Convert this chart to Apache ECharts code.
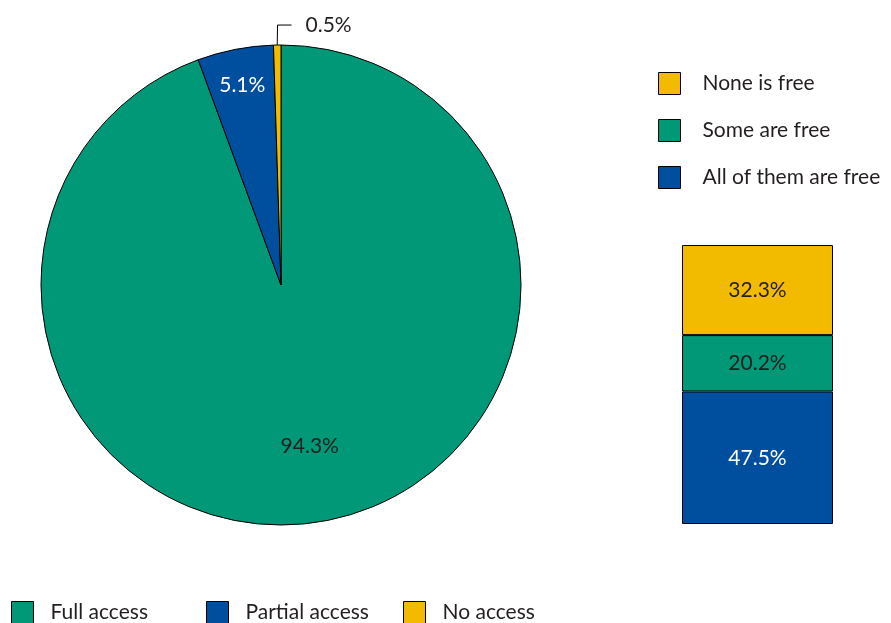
<!DOCTYPE html>
<html><head><meta charset="utf-8">
<script src="https://cdn.jsdelivr.net/npm/echarts@6/dist/echarts.min.js"></script>
<style>html,body{margin:0;padding:0;background:#fff}#c{width:891px;height:623px}</style>
</head><body><div id="c"></div>
<script>
var accessNames = ['Full access', 'Partial access', 'No access'];
var accessValues = [94.3, 5.1, 0.5];
var freeNames = ['All of them are free', 'Some are free', 'None is free'];
var freeValues = [47.5, 20.2, 32.3];

var GREEN = '#009877', BLUE = '#004f9f', YELLOW = '#f2bb00', TXT = '#231f20';
var FONT = 'Lato';
var FS = 21;
var pieColors = [GREEN, BLUE, YELLOW];
var barColors = [BLUE, GREEN, YELLOW];
var barLabelColors = ['#ffffff', TXT, TXT];

var chart = echarts.init(document.getElementById('c'), null, {renderer: 'canvas'});

var mainData = accessNames.map(function (n, i) {
  return {name: n, value: accessValues[i], itemStyle: {color: pieColors[i]},
    label: {show: i === 2}, labelLine: {show: i === 2}};
});
function overlay(idx, color) {
  return accessNames.map(function (n, i) {
    return {name: n, value: accessValues[i],
      itemStyle: {color: 'rgba(0,0,0,0)', borderWidth: 0},
      label: {show: i === idx, color: color}};
  });
}

function legendCommon(pad) {
  return {itemWidth: 22, itemHeight: 22, icon: 'rect', padding: 0,
    itemStyle: {borderColor: '#000', borderWidth: 1},
    textStyle: {fontFamily: FONT, fontSize: FS, color: TXT, lineHeight: 22, padding: [0, 0, 0, pad]},
    selectedMode: false};
}

var option = {
  animation: false,
  textStyle: {fontFamily: FONT},
  legend: [
    Object.assign({orient: 'vertical', left: 658, top: 72, itemGap: 24,
      data: ['None is free', 'Some are free', 'All of them are free']}, legendCommon(17)),
    Object.assign({left: 11, top: 601, data: [accessNames[0]]}, legendCommon(12)),
    Object.assign({left: 206, top: 601, data: [accessNames[1]]}, legendCommon(12)),
    Object.assign({left: 403, top: 601, data: [accessNames[2]]}, legendCommon(12))
  ],
  grid: {left: 682, right: 58, top: 245, bottom: 99, containLabel: false},
  xAxis: {type: 'category', data: ['x'], show: false},
  yAxis: {type: 'value', min: 0, max: 100, show: false},
  series: [
    {
      type: 'pie', center: [281, 285], radius: [0, 240],
      startAngle: 90, clockwise: true, avoidLabelOverlap: false,
      itemStyle: {borderColor: '#000', borderWidth: 1},
      label: {position: 'outside', formatter: '{c}%', fontFamily: FONT, fontSize: FS, color: TXT},
      labelLine: {length: 20, length2: 14, lineStyle: {color: '#000', width: 1}},
      labelLayout: function (p) {
        var pts = p.labelLinePoints;
        if (!pts) return {};
        var x0 = pts[0][0];
        var np = pts.map(function (pt, k) { return k === 0 ? [pt[0], pt[1]] : [2 * x0 - pt[0], pt[1]]; });
        var end = np[np.length - 1];
        return {labelLinePoints: np, x: end[0] + 14, y: end[1], align: 'left', verticalAlign: 'middle'};
      },
      data: mainData, z: 2
    },
    {
      type: 'pie', center: [281, 285], radius: [0, 322], silent: true,
      startAngle: 90, clockwise: true,
      label: {position: 'inside', formatter: '{c}%', fontFamily: FONT, fontSize: FS},
      labelLine: {show: false},
      data: overlay(0, TXT), z: 3
    },
    {
      type: 'pie', center: [281, 285], radius: [0, 400], silent: true,
      startAngle: 90, clockwise: true,
      label: {position: 'inside', formatter: '{c}%', fontFamily: FONT, fontSize: FS},
      labelLine: {show: false},
      data: overlay(1, '#ffffff'), z: 3
    }
  ].concat(freeNames.map(function (n, i) {
    return {
      type: 'bar', name: n, stack: 'free', barWidth: '100%',
      data: [freeValues[i]],
      itemStyle: {color: barColors[i], borderColor: '#000', borderWidth: 1},
      label: {show: true, position: 'inside', formatter: '{c}%', fontFamily: FONT, fontSize: FS,
        color: barLabelColors[i]}
    };
  }))
};
chart.setOption(option);
</script></body></html>
